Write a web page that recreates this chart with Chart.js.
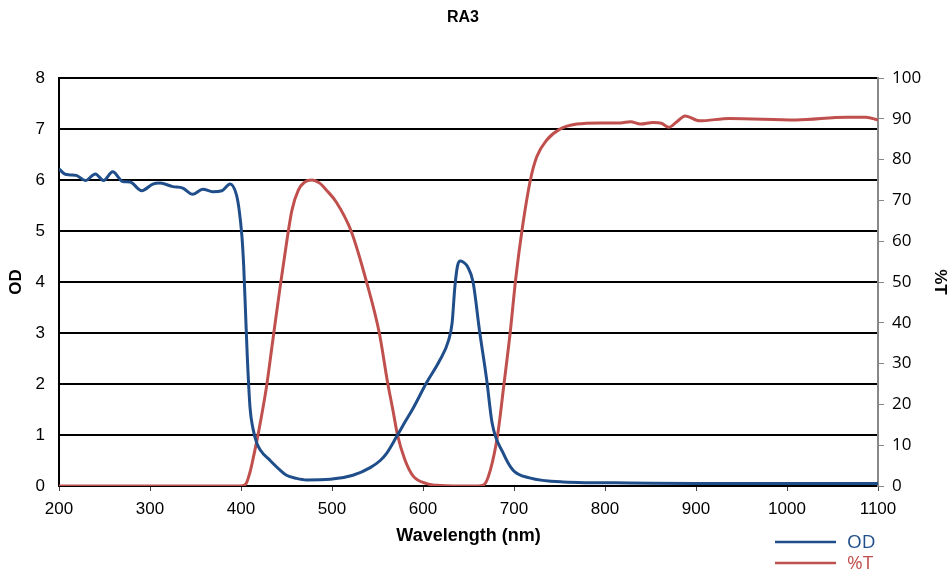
<!DOCTYPE html>
<html>
<head>
<meta charset="utf-8">
<script src="https://cdn.jsdelivr.net/npm/chart.js@4.4.1/dist/chart.umd.min.js"></script>
<style>
  html, body { margin: 0; padding: 0; background: #fff; }
</style>
</head>
<body>
<canvas id="spectrum" width="952" height="571"></canvas>
<script>
// OD curve (wavelength nm, optical density)
const odWavelengths = [200, 206, 212, 219, 229, 240, 249, 259, 270, 278, 291, 303, 311, 325, 336, 347, 358, 369, 379, 388, 395, 398, 401, 403, 405, 407, 410, 413, 417, 421, 432, 443, 450, 461, 472, 498, 523, 542, 553, 560, 571, 580, 589, 604, 618, 628, 632, 635, 638, 641, 645, 649, 655, 662, 670, 676, 688, 699, 717, 754, 827, 900, 1000, 1100];
const odValues = [6.22, 6.12, 6.1, 6.09, 5.99, 6.12, 5.99, 6.16, 5.97, 5.96, 5.79, 5.92, 5.94, 5.87, 5.84, 5.72, 5.82, 5.77, 5.79, 5.92, 5.71, 5.41, 4.9, 4.3, 3.4, 2.5, 1.52, 1.14, 0.86, 0.71, 0.5, 0.31, 0.21, 0.15, 0.12, 0.13, 0.21, 0.36, 0.5, 0.64, 0.97, 1.25, 1.52, 2.03, 2.45, 2.85, 3.2, 3.9, 4.32, 4.41, 4.38, 4.3, 4.0, 3.06, 2.08, 1.23, 0.65, 0.31, 0.16, 0.08, 0.06, 0.05, 0.05, 0.05];

// %T curve (wavelength nm, transmission %)
const tWavelengths = [200, 399, 405, 410, 413, 419, 428, 435, 443, 450, 456, 463, 470, 478, 486, 494, 505, 521, 538, 552, 561, 567, 572, 580, 589, 604, 620, 633, 660, 667, 674, 682, 689, 696, 702, 709, 718, 725, 736, 750, 769, 795, 817, 828, 839, 853, 862, 870, 879, 888, 904, 937, 1010, 1065, 1087, 1100];
const tValues = [0, 0, 0.4, 3.5, 6.4, 12.9, 24.3, 35.8, 48.8, 59.5, 67.6, 72.5, 74.5, 75, 74.3, 72.5, 69.5, 62.5, 50, 37.5, 25.5, 18.5, 12.5, 6.5, 2.5, 0.6, 0.1, 0, 0, 0.3, 3.9, 12.5, 25, 38, 51, 63, 75, 80.7, 84.8, 87.4, 88.7, 89, 89, 89.3, 88.7, 89.1, 88.9, 87.9, 89.3, 90.7, 89.5, 90.1, 89.7, 90.4, 90.4, 89.7];

const xTicks = [200, 300, 400, 500, 600, 700, 800, 900, 1000, 1100];

const blue = "#1f4e8a";
const red = "#c0504d";
const arial = "'Liberation Sans', Arial, sans-serif";

const odPoints = odWavelengths.map((x, i) => ({ x: x, y: odValues[i] }));
const tPoints = tWavelengths.map((x, i) => ({ x: x, y: tValues[i] }));

// title and the corner legend, drawn by hand like the original
const extras = {
  id: "extras",
  afterDraw(chart) {
    const ctx = chart.ctx;
    ctx.save();
    ctx.fillStyle = "#000";
    ctx.font = "bold 16px " + arial;
    ctx.textAlign = "center";
    ctx.textBaseline = "middle";
    ctx.fillText("RA3", 463, 18);

    ctx.lineWidth = 2.5;
    ctx.font = "19px 'Open Sans', sans-serif";
    ctx.textAlign = "left";
    const rows = [["OD", blue, 542], ["%T", red, 563]];
    rows.forEach(([label, color, y]) => {
      ctx.strokeStyle = color;
      ctx.beginPath();
      ctx.moveTo(775, y);
      ctx.lineTo(836, y);
      ctx.stroke();
      ctx.fillStyle = color;
      ctx.fillText(label, 847, y + 1);
    });
    ctx.restore();
  }
};

new Chart(document.getElementById("spectrum"), {
  type: "line",
  data: {
    datasets: [
      {
        label: "OD",
        data: odPoints,
        yAxisID: "y",
        borderColor: blue,
        borderWidth: 3,
        pointRadius: 0,
        cubicInterpolationMode: "monotone",
      },
      {
        label: "%T",
        data: tPoints,
        yAxisID: "y1",
        borderColor: red,
        borderWidth: 3,
        pointRadius: 0,
        cubicInterpolationMode: "monotone",
      },
    ],
  },
  options: {
    responsive: false,
    animation: false,
    layout: { padding: { top: 78 } },
    plugins: {
      legend: { display: false },
      tooltip: { enabled: false },
    },
    scales: {
      x: {
        type: "linear",
        min: 200,
        max: 1100,
        afterBuildTicks: (scale) => {
          scale.ticks = xTicks.map((v) => ({ value: v }));
        },
        afterFit: (scale) => {
          scale.height = 85;
        },
        ticks: {
          color: "#000",
          padding: 8,
          maxRotation: 0,
          callback: (v) => String(v),
          font: { family: arial, size: 17 },
        },
        grid: { drawOnChartArea: false, drawTicks: true, tickLength: 5, color: "#444", lineWidth: 1 },
        border: { color: "#000", width: 2 },
        title: {
          display: true,
          text: "Wavelength (nm)",
          color: "#000",
          font: { family: arial, size: 18, weight: "bold" },
          padding: { top: 0, bottom: 24 },
        },
      },
      y: {
        position: "left",
        min: 0,
        max: 8,
        afterFit: (scale) => {
          scale.width = 59;
        },
        ticks: {
          stepSize: 1,
          color: "#000",
          padding: 14,
          font: { family: arial, size: 17 },
        },
        grid: { color: "#000", lineWidth: 2, drawTicks: false },
        border: { color: "#000", width: 2 },
        title: {
          display: true,
          text: "OD",
          color: "#000",
          font: { family: arial, size: 17, weight: "bold" },
          padding: { top: 6, bottom: 0 },
        },
      },
      y1: {
        position: "right",
        min: 0,
        max: 100,
        afterFit: (scale) => {
          scale.width = 74;
        },
        ticks: {
          stepSize: 10,
          color: "#000",
          padding: 8,
          font: { family: "'Open Sans', sans-serif", size: 17 },
        },
        grid: { drawOnChartArea: false, drawTicks: true, tickLength: 6, color: "#888", lineWidth: 1 },
        border: { color: "#888", width: 2 },
        title: {
          display: true,
          text: "%T",
          color: "#000",
          font: { family: arial, size: 17, weight: "bold" },
          padding: { top: 2, bottom: 0 },
        },
      },
    },
  },
  plugins: [extras],
});
</script>
</body>
</html>
